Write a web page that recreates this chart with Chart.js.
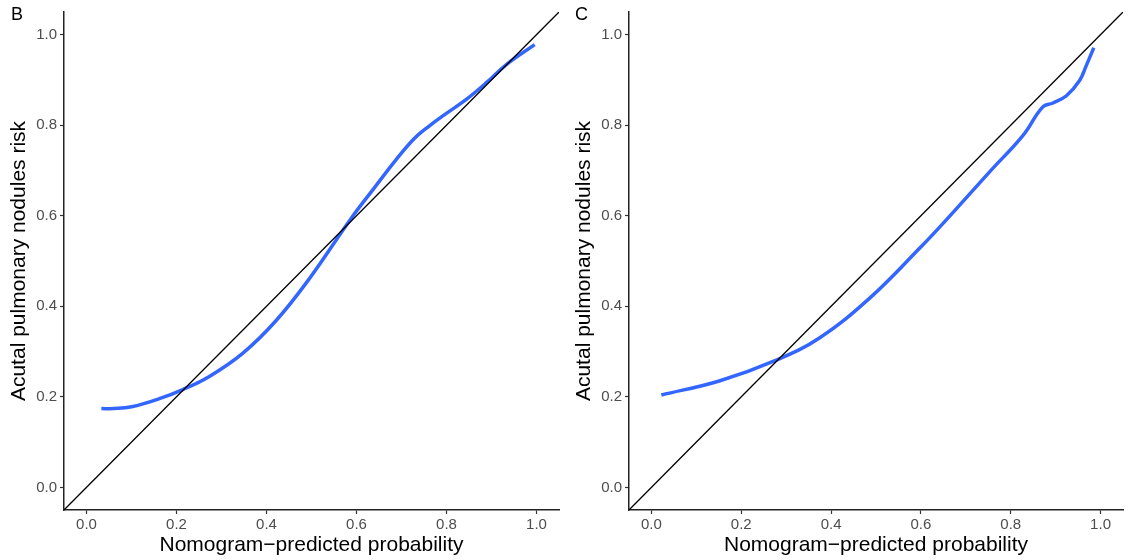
<!DOCTYPE html>
<html>
<head>
<meta charset="utf-8">
<title>Calibration curves</title>
<script src="https://cdn.jsdelivr.net/npm/chart.js@4.4.1/dist/chart.umd.min.js"></script>
<style>
    body { margin: 0; background: #fff; font-family: "Liberation Sans", Arial, sans-serif; }
    #wrap { position: relative; width: 1129px; height: 560px; overflow: hidden; }
    .panel { position: absolute; top: 0; height: 560px; }
    .tag { position: absolute; top: 5px; font-size: 18px; line-height: 18px; color: #000; }
</style>
</head>
<body>
<div id="wrap">
    <div class="panel" style="left:0;width:565px"><canvas id="chartB" width="565" height="560"></canvas></div>
    <div class="panel" style="left:565px;width:564px"><canvas id="chartC" width="564" height="560"></canvas></div>
    <div class="tag" style="left:11px">B</div>
    <div class="tag" style="left:575px">C</div>
</div>
<script>
// values
const tickVals = [0, 0.2, 0.4, 0.6, 0.8, 1.0];
const axisRange = [-0.05, 1.05];
const idealLine = [-0.05, 1.05];

const predB = [0.033, 0.06, 0.1, 0.162, 0.214, 0.273, 0.347, 0.421, 0.496, 0.588, 0.64, 0.689, 0.729, 0.76, 0.791, 0.844, 0.89, 0.933, 0.996];
const obsB  = [0.174, 0.174, 0.178, 0.196, 0.216, 0.245, 0.296, 0.368, 0.462, 0.594, 0.662, 0.725, 0.771, 0.797, 0.820, 0.857, 0.895, 0.934, 0.978];

const predC = [0.022, 0.151, 0.278, 0.374, 0.486, 0.597, 0.653, 0.753, 0.827, 0.871, 0.894, 0.924, 0.953, 0.968, 0.985];
const obsC  = [0.204, 0.235, 0.281, 0.330, 0.418, 0.528, 0.587, 0.697, 0.777, 0.840, 0.849, 0.865, 0.898, 0.931, 0.971];

const FONT = '"Liberation Sans", Arial, sans-serif';

function axis(title, isY) {
    return {
        type: 'linear',
        min: axisRange[0], max: axisRange[1],
        afterBuildTicks: s => { s.ticks = tickVals.map(v => ({ value: v })); },
        afterFit: s => { if (isY) s.width = 64; else s.height = 50; },
        grid: { drawOnChartArea: false, drawTicks: true, tickLength: 4, tickColor: '#333', tickWidth: 1.2 },
        border: { display: true, color: '#222', width: 1.5 },
        ticks: {
            color: '#4d4d4d', padding: isY ? 3 : 2,
            font: { family: FONT, size: 15 },
            callback: v => v.toFixed(1)
        },
        title: {
            display: true, text: title, color: '#000',
            font: { family: FONT, size: 21 },
            padding: isY ? { top: 7, bottom: 0 } : { top: 0, bottom: 2 }
        }
    };
}

function renderCalibration(id, pred, obs) {
    const ctx = document.getElementById(id);
    new Chart(ctx, {
        type: 'scatter',
        data: {
            datasets: [
                { data: idealLine.map(v => ({ x: v, y: v })), showLine: true, borderColor: '#000', borderWidth: 1.3, pointRadius: 0, order: 0 },
                { data: pred.map((x, i) => ({ x: x, y: obs[i] })), showLine: true, borderColor: '#3366FF', borderWidth: 3.5, pointRadius: 0, tension: 0.4, order: 1 }
            ]
        },
        options: {
            responsive: false, animation: false,
            layout: { padding: { left: 0, right: 6, top: 9, bottom: 0 } },
            plugins: { legend: { display: false }, tooltip: { enabled: false } },
            scales: {
                x: axis('Nomogram\u2212predicted probability', false),
                y: axis('Acutal pulmonary nodules risk', true)
            }
        }
    });
}

renderCalibration('chartB', predB, obsB);
renderCalibration('chartC', predC, obsC);
</script>
</body>
</html>
